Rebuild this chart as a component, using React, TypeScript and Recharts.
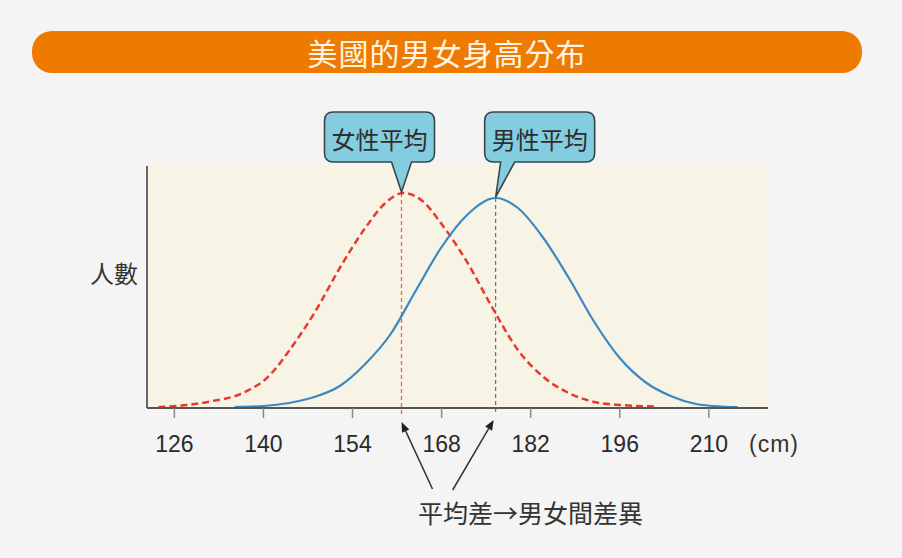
import React from 'react'
import {
  LineChart,
  Line,
  XAxis,
  YAxis,
  CartesianGrid,
  ReferenceLine,
  ReferenceDot,
} from 'recharts'

// heights in cm, counts in relative units
const cmTicks = [126, 140, 154, 168, 182, 196, 210]

const femaleCm = [123.5, 128, 132, 136, 138, 140, 142, 144, 148, 152, 156, 159, 162, 165, 168, 172, 176, 180, 184, 188, 192, 196, 202]
const femaleCount = [1, 3, 7, 13, 19, 27, 40, 57, 95, 140, 180, 204, 215, 207, 184, 146, 100, 58, 31, 15, 6, 3, 1.5]

const maleCm = [135.5, 140, 144, 148, 152, 156, 160, 164, 168, 172, 176.5, 180, 184, 188, 192, 196, 200, 204, 208, 212, 214.5]
const maleCount = [1, 2, 5, 11, 22, 44, 74, 118, 161, 193, 210, 200, 170, 130, 86, 50, 26, 12, 4, 1.5, 1]

const femaleMean = 161.7
const maleMean = 176.5
const femalePeak = 215
const malePeak = 210

const female = femaleCm.map((cm, i) => ({ cm, n: femaleCount[i] }))
const male = maleCm.map((cm, i) => ({ cm, n: maleCount[i] }))

const CJK = '"Noto Sans CJK TC", "Noto Sans CJK SC", sans-serif'

function calloutPath(x1: number, y1: number, x2: number, y2: number, r: number, bx1: number, bx2: number, tx: number, ty: number) {
  return `M${x1 + r},${y1} H${x2 - r} Q${x2},${y1} ${x2},${y1 + r} V${y2 - r} Q${x2},${y2} ${x2 - r},${y2} H${bx2} L${tx},${ty} L${bx1},${y2} H${x1 + r} Q${x1},${y2} ${x1},${y2 - r} V${y1 + r} Q${x1},${y1} ${x1 + r},${y1} Z`
}

const Callout = ({ cx, cy, text, box, base }: any) => {
  const x1 = cx + box[0]
  const x2 = cx + box[1]
  const y1 = cy + box[2]
  const y2 = cy + box[3]
  return (
    <g>
      <path
        d={calloutPath(x1, y1, x2, y2, 9, cx + base[0], cx + base[1], cx, cy - 1)}
        fill="#84cde0"
        stroke="#3a4548"
        strokeWidth={1.6}
      />
      <text
        x={(x1 + x2) / 2}
        y={(y1 + y2) / 2 + 1}
        textAnchor="middle"
        dominantBaseline="central"
        fontSize={24}
        fontFamily={CJK}
        fill="#2e2e2e"
      >
        {text}
      </text>
    </g>
  )
}

const Arrow = ({ cx, cy, tip, tail }: any) => {
  const tx = cx + tip[0]
  const ty = cy + tip[1]
  const sx = cx + tail[0]
  const sy = cy + tail[1]
  const len = Math.hypot(tx - sx, ty - sy)
  const ux = (tx - sx) / len
  const uy = (ty - sy) / len
  const bx = tx - ux * 10
  const by = ty - uy * 10
  return (
    <g>
      <line x1={sx} y1={sy} x2={bx} y2={by} stroke="#333" strokeWidth={1.5} />
      <polygon
        points={`${tx},${ty} ${bx - uy * 4},${by + ux * 4} ${bx + uy * 4},${by - ux * 4}`}
        fill="#222"
      />
    </g>
  )
}

export default function App() {
  return (
    <div style={{ position: 'absolute', left: 0, top: 0, width: 902, height: 558, background: '#f4f4f4' }}>
      <div
        style={{
          position: 'absolute',
          left: 32,
          top: 31,
          width: 830,
          height: 42,
          borderRadius: 20,
          background: '#ef7a00',
          color: '#fff4e4',
          fontFamily: CJK,
          fontSize: 30,
          lineHeight: '42px',
          textAlign: 'center',
          letterSpacing: 1,
        }}
      >
        美國的男女身高分布
      </div>
      <div style={{ position: 'absolute', left: 90, top: 260, fontFamily: CJK, fontSize: 24, lineHeight: '26px', color: '#333' }}>
        人數
      </div>
      <div style={{ position: 'absolute', left: 749, top: 431, fontFamily: '"Liberation Sans", sans-serif', fontSize: 23, lineHeight: '26px', color: '#333', letterSpacing: 1 }}>
        (cm)
      </div>
      <div style={{ position: 'absolute', left: 418, top: 497, fontFamily: CJK, fontSize: 25, lineHeight: '30px', color: '#333' }}>
        平均差→男女間差異
      </div>
      <LineChart
        width={902}
        height={558}
        margin={{ top: 166, right: 134, left: 145, bottom: 110 }}
        style={{ position: 'absolute', left: 0, top: 0 }}
      >
        <CartesianGrid fill="#f7f4e6" horizontal={false} vertical={false} />
        <XAxis
          type="number"
          dataKey="cm"
          domain={[121.7, 219.3]}
          ticks={cmTicks}
          interval={0}
          allowDataOverflow
          height={40}
          tickSize={10}
          tickMargin={18}
          axisLine={{ stroke: '#555', strokeWidth: 1.8 }}
          tickLine={{ stroke: '#888', strokeWidth: 1.5 }}
          tick={{ fill: '#2a2a2a', fontSize: 23, fontFamily: '"Liberation Sans", sans-serif' }}
        />
        <YAxis
          type="number"
          domain={[0, 242]}
          allowDataOverflow
          width={2}
          tick={false}
          tickLine={false}
          axisLine={{ stroke: '#555', strokeWidth: 1.8 }}
        />
        <ReferenceLine
          segment={[{ x: femaleMean, y: femalePeak }, { x: femaleMean, y: -7 }]}
          stroke="#f2644f"
          strokeWidth={1.3}
          strokeDasharray="4 3"
          ifOverflow="visible"
        />
        <ReferenceLine
          segment={[{ x: maleMean, y: malePeak }, { x: maleMean, y: -5 }]}
          stroke="#555"
          strokeWidth={1}
          strokeDasharray="4 3"
          ifOverflow="visible"
        />
        <Line
          data={female}
          dataKey="n"
          type="monotone"
          stroke="#e63a30"
          strokeWidth={2.5}
          strokeDasharray="7 4"
          dot={false}
          isAnimationActive={false}
        />
        <Line
          data={male}
          dataKey="n"
          type="monotone"
          stroke="#3a88c4"
          strokeWidth={2.2}
          dot={false}
          isAnimationActive={false}
        />
        <ReferenceDot
          x={femaleMean}
          y={femalePeak}
          ifOverflow="visible"
          shape={(p: any) => <Callout {...p} text="女性平均" box={[-77, 33, -81, -31]} base={[-10, 10]} />}
        />
        <ReferenceDot
          x={maleMean}
          y={malePeak}
          ifOverflow="visible"
          shape={(p: any) => <Callout {...p} text="男性平均" box={[-11, 99, -86, -36]} base={[5, 19]} />}
        />
        <ReferenceDot
          x={femaleMean}
          y={0}
          ifOverflow="visible"
          shape={(p: any) => <Arrow {...p} tip={[0, 14]} tail={[31, 81]} />}
        />
        <ReferenceDot
          x={maleMean}
          y={0}
          ifOverflow="visible"
          shape={(p: any) => <Arrow {...p} tip={[-2, 12]} tail={[-43, 82]} />}
        />
      </LineChart>
    </div>
  )
}
